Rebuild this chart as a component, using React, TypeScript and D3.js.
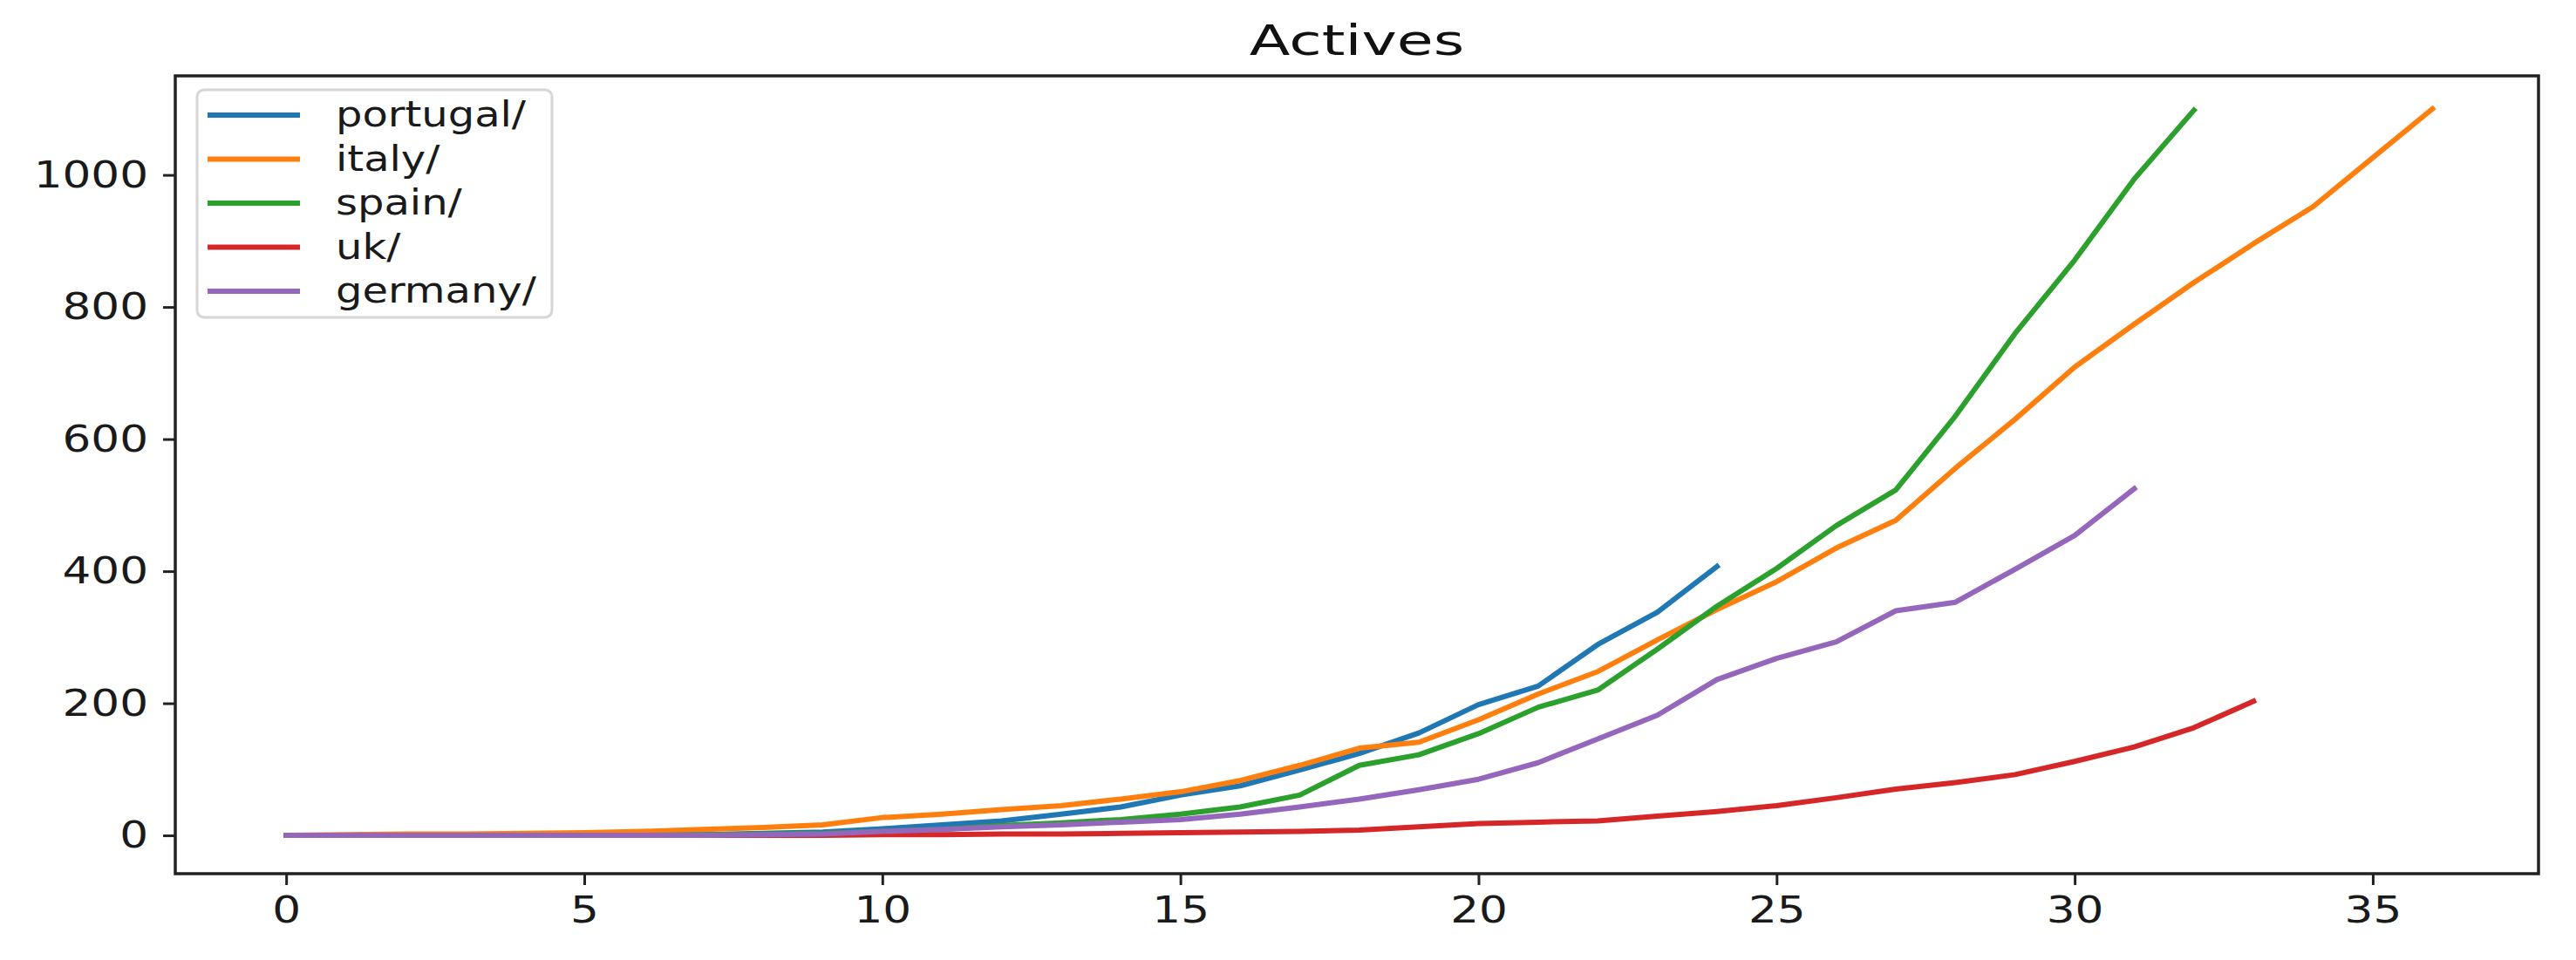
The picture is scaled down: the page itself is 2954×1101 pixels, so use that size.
import React, { useEffect, useRef } from "react";
import * as d3 from "d3";

const width = 2954;
const height = 1101;

// values, one per day since first case
const portugal = [0, 0, 0, 0, 0, 0, 0, 1, 3, 5, 10, 16, 22, 32, 43, 61, 75, 99, 124, 155, 198, 226, 289, 338, 407];
const italy = [0, 1, 2, 2, 3, 4, 6, 9, 12, 16, 27, 32, 39, 45, 55, 66, 83, 106, 132, 141, 175, 214, 248, 296, 342, 384, 435, 477, 556, 630, 709, 774, 837, 896, 952, 1026, 1100];
const spain = [0, 0, 0, 0, 0, 0, 0, 1, 2, 3, 6, 9, 15, 19, 24, 32, 43, 61, 106, 122, 154, 194, 220, 282, 347, 404, 469, 523, 635, 760, 871, 994, 1098];
const uk = [0, 0, 0, 0, 0, 0, 0, 0, 0, 0, 1, 1, 2, 2, 3, 4, 5, 6, 8, 13, 18, 20, 22, 29, 36, 45, 57, 70, 80, 92, 112, 134, 163, 203];
const germany = [0, 0, 0, 0, 0, 0, 0, 0, 1, 2, 6, 9, 13, 16, 20, 24, 32, 43, 55, 69, 85, 110, 146, 182, 236, 268, 293, 340, 353, 403, 454, 525];

const seriesNames = ["portugal/", "italy/", "spain/", "uk/", "germany/"];
const seriesColors = ["#1f77b4", "#ff7f0e", "#2ca02c", "#d62728", "#9467bd"];
const xTicks = [0, 5, 10, 15, 20, 25, 30, 35];
const yTicks = [0, 200, 400, 600, 800, 1000];
const title = "Actives";

const font = "'DejaVu Sans', sans-serif";

const App = () => {
  const ref = useRef<SVGSVGElement>(null);

  useEffect(() => {
    document.body.style.margin = "0";
    const svg = d3.select(ref.current);
    svg.selectAll("*").remove();

    const left = 201, right = 2911, top = 87, bottom = 1002;

    const xScale = d3.scaleLinear().domain([-1.86, 37.78]).range([left, right]);
    const yScale = d3.scaleLinear().domain([-58, 1150]).range([bottom, top]);

    // title
    svg.append("text")
      .attr("transform", `translate(${(left + right) / 2},63) scale(1.42,1)`)
      .attr("text-anchor", "middle")
      .attr("font-family", font)
      .attr("font-size", 48)
      .attr("fill", "#111")
      .text(title);

    // lines
    const data = [portugal, italy, spain, uk, germany];
    const line = d3.line<number>()
      .x((d, i) => xScale(i))
      .y(d => yScale(d));

    svg.append("g")
      .selectAll("path")
      .data(data)
      .enter()
      .append("path")
      .attr("d", d => line(d))
      .attr("fill", "none")
      .attr("stroke", (d, i) => seriesColors[i])
      .attr("stroke-width", 6)
      .attr("stroke-linejoin", "round")
      .attr("stroke-linecap", "square");

    // axes
    const xAxis = d3.axisBottom(xScale).tickValues(xTicks).tickFormat(d3.format("d")).tickSize(13).tickPadding(12);
    const yAxis = d3.axisLeft(yScale).tickValues(yTicks).tickFormat(d3.format("d")).tickSize(14).tickPadding(17);

    const gx = svg.append("g")
      .attr("transform", "translate(0," + bottom + ")")
      .call(xAxis);
    const gy = svg.append("g")
      .attr("transform", "translate(" + left + ",0)")
      .call(yAxis);

    [gx, gy].forEach(g => {
      g.select(".domain").remove();
      g.selectAll(".tick line").attr("stroke", "#222").attr("stroke-width", 3);
      g.selectAll(".tick text")
        .attr("font-family", font)
        .attr("font-size", 43)
        .attr("fill", "#1a1a1a");
    });
    gx.selectAll(".tick text").attr("transform", "scale(1.2,1)").attr("x", 0);
    gy.selectAll(".tick text").attr("transform", "scale(1.2,1)").attr("x", -31 / 1.2);

    // frame
    svg.append("rect")
      .attr("x", left)
      .attr("y", top)
      .attr("width", right - left)
      .attr("height", bottom - top)
      .attr("fill", "none")
      .attr("stroke", "#222")
      .attr("stroke-width", 3.5);

    // legend
    const legend = svg.append("g");
    legend.append("rect")
      .attr("x", 226)
      .attr("y", 103)
      .attr("width", 407)
      .attr("height", 261)
      .attr("rx", 8)
      .attr("fill", "white")
      .attr("fill-opacity", 0.8)
      .attr("stroke", "#d6d6d6")
      .attr("stroke-width", 3);

    seriesNames.forEach((name, i) => {
      const ly = 132 + i * 50.5;
      legend.append("line")
        .attr("x1", 238)
        .attr("x2", 344)
        .attr("y1", ly)
        .attr("y2", ly)
        .attr("stroke", seriesColors[i])
        .attr("stroke-width", 6);
      legend.append("text")
        .attr("transform", `translate(385,${ly}) scale(1.17,1)`)
        .attr("dy", "0.32em")
        .attr("font-family", font)
        .attr("font-size", 41)
        .attr("fill", "#1a1a1a")
        .text(name);
    });
  }, []);

  return (
    <svg ref={ref} width={width} height={height} style={{ display: "block", background: "white" }} />
  );
};

export default App;
